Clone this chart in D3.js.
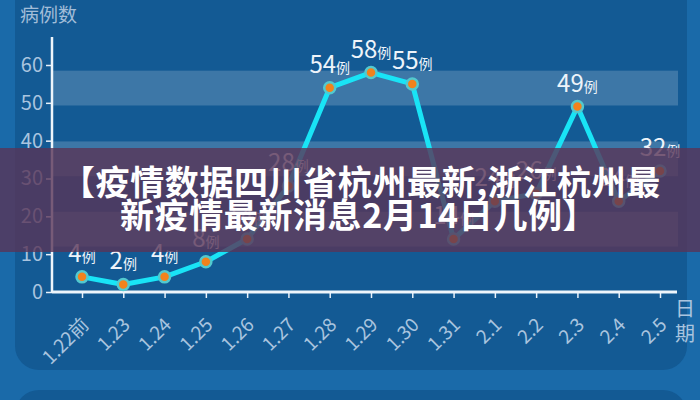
<!DOCTYPE html>
<html>
<head>
<meta charset="utf-8">
<script src="https://cdn.jsdelivr.net/npm/d3@7"></script>
<style>
  body { margin: 0; background: #1a6aa9; }
  svg { display: block; }
</style>
</head>
<body>
<script>
var w = 700;
var h = 400;

// data
var dates = ["1.22前", "1.23", "1.24", "1.25", "1.26", "1.27", "1.28", "1.29",
             "1.30", "1.31", "2.1", "2.2", "2.3", "2.4", "2.5"];
var cases = [4, 2, 4, 8, 14, 28, 54, 58, 55, 14, 24, 26, 49, 24, 32];
var yTicks = [0, 10, 20, 30, 40, 50, 60];
var bandRanges = [[49.3, 58.5], [30.6, 39.8], [12, 21.2]];
var yTitle = "病例数";
var xTitle = ["日", "期"];
var unit = "例";
var titleLines = ["【疫情数据四川省杭州最新,浙江杭州最", "新疫情最新消息2月14日几例】"];

var font = "'Noto Sans CJK SC', 'Noto Sans', sans-serif";
var left = 52, bottom = 292;

var svg = d3.select("body")
  .append("svg")
  .attr("width", w)
  .attr("height", h);

// outer background + panels
svg.append("rect").attr("width", w).attr("height", h).attr("fill", "#1a6aa9");
svg.append("rect")
  .attr("x", 15).attr("y", -40).attr("width", 672).attr("height", 410)
  .attr("rx", 24).attr("fill", "#135a94");
svg.append("rect")
  .attr("x", 15).attr("y", 390).attr("width", 672).attr("height", 60)
  .attr("rx", 24).attr("fill", "#135a94");

var x = d3.scalePoint()
  .domain(dates)
  .range([82, 660]);

var y = d3.scaleLinear()
  .domain([0, 60])
  .range([bottom, 65]);

// light bands
svg.selectAll("rect.band")
  .data(bandRanges)
  .enter()
  .append("rect")
  .attr("class", "band")
  .attr("x", left)
  .attr("width", 678 - left)
  .attr("y", function(d) { return y(d[1]); })
  .attr("height", function(d) { return y(d[0]) - y(d[1]); })
  .attr("fill", "rgba(255,255,255,0.18)");

// y axis
var yAxis = svg.append("g")
  .attr("transform", "translate(" + left + ",0)")
  .call(d3.axisLeft(y).tickValues(yTicks).tickSize(6).tickPadding(3));
yAxis.select(".domain").remove();
yAxis.selectAll(".tick line").attr("stroke", "#e8f1fa").attr("stroke-width", 1.5);
yAxis.selectAll(".tick text")
  .attr("fill", "#a9c4df")
  .attr("font-family", font)
  .attr("font-size", "20px");

svg.append("line")
  .attr("x1", left).attr("x2", left)
  .attr("y1", 37).attr("y2", bottom + 1)
  .attr("stroke", "#eef5fb").attr("stroke-width", 2.5);

// x axis
var xAxis = svg.append("g")
  .attr("transform", "translate(0," + bottom + ")")
  .call(d3.axisBottom(x).tickSize(6).tickFormat(""));
xAxis.select(".domain").remove();
xAxis.selectAll(".tick line").attr("stroke", "#e8f1fa").attr("stroke-width", 1.5);

svg.append("line")
  .attr("x1", left).attr("x2", 677)
  .attr("y1", bottom).attr("y2", bottom)
  .attr("stroke", "#eef5fb").attr("stroke-width", 3);

svg.selectAll("text.xlab")
  .data(dates)
  .enter()
  .append("text")
  .attr("class", "xlab")
  .attr("text-anchor", "end")
  .attr("transform", function(d) {
    return "translate(" + (x(d) + 8) + "," + (bottom + 34) + ") rotate(-45)";
  })
  .attr("font-family", font)
  .attr("font-size", "19px")
  .attr("fill", "#a9c4df")
  .text(function(d) { return d; });

// axis titles
svg.append("text")
  .attr("x", 20).attr("y", 22)
  .attr("font-family", font)
  .attr("font-size", "19px")
  .attr("fill", "#a2bdd8")
  .text(yTitle);

svg.selectAll("text.xt")
  .data(xTitle)
  .enter()
  .append("text")
  .attr("class", "xt")
  .attr("x", 685)
  .attr("y", function(d, i) { return 316 + i * 25; })
  .attr("text-anchor", "middle")
  .attr("font-family", font)
  .attr("font-size", "20px")
  .attr("fill", "#a9c4df")
  .text(function(d) { return d; });

// line
var line = d3.line()
  .x(function(d, i) { return x(dates[i]); })
  .y(function(d) { return y(d); });

svg.append("path")
  .datum(cases)
  .attr("d", line)
  .attr("fill", "none")
  .attr("stroke", "#19e4f6")
  .attr("stroke-width", 5)
  .attr("stroke-linejoin", "round");

svg.selectAll("circle")
  .data(cases)
  .enter()
  .append("circle")
  .attr("cx", function(d, i) { return x(dates[i]); })
  .attr("cy", function(d) { return y(d); })
  .attr("r", 5.5)
  .attr("fill", "#f2821c")
  .attr("stroke", "#52c9cf")
  .attr("stroke-width", 2.5);

// value labels
var labels = svg.selectAll("text.val")
  .data(cases)
  .enter()
  .append("text")
  .attr("class", "val")
  .attr("x", function(d, i) { return x(dates[i]); })
  .attr("y", function(d) { return y(d) - 15; })
  .attr("text-anchor", "middle")
  .attr("font-family", font)
  .attr("fill", "#eef4fa");
labels.append("tspan").attr("font-size", "24px").text(function(d) { return d; });
labels.append("tspan").attr("font-size", "14px").text(unit);

// title banner over the chart
svg.append("rect")
  .attr("x", 0).attr("y", 148).attr("width", w).attr("height", 104)
  .attr("fill", "rgba(89,52,87,0.8)");

svg.selectAll("text.title")
  .data(titleLines)
  .enter()
  .append("text")
  .attr("class", "title")
  .attr("x", function(d, i) { return i === 0 ? 61 : 120; })
  .attr("y", function(d, i) { return 195 + i * 33; })
  .attr("font-family", font)
  .attr("font-size", "34px")
  .attr("letter-spacing", "0.6px")
  .attr("font-weight", "bold")
  .attr("fill", "#ffffff")
  .text(function(d) { return d; });
</script>
</body>
</html>
